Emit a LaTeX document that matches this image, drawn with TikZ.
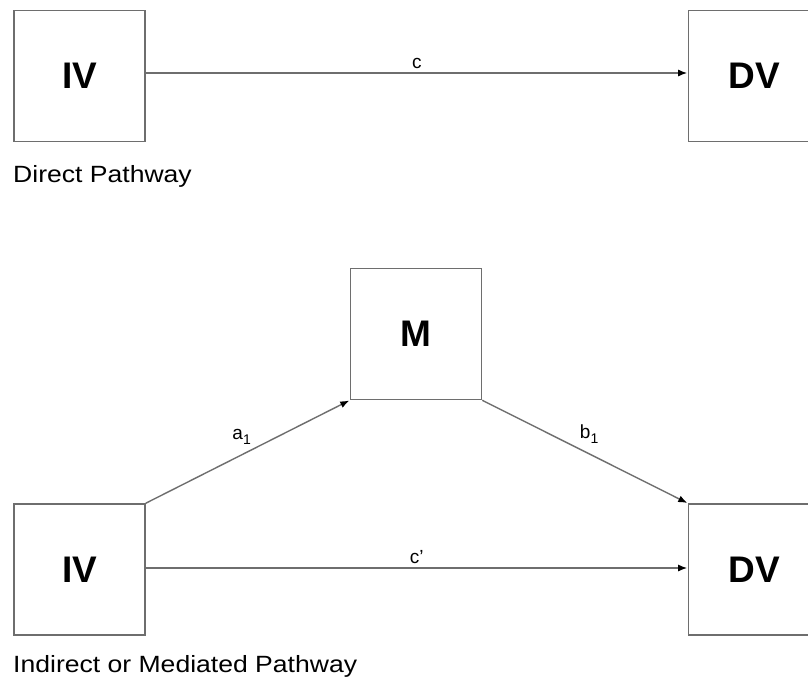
\documentclass[tikz,border=0pt]{standalone}
\usepackage{fontspec}
\setmainfont{Liberation Sans}
\usetikzlibrary{arrows.meta}
\definecolor{edgegray}{HTML}{6E6E6E}
% caption text is set slightly wide
\newcommand{\widecap}[1]{\scalebox{1.13}[1]{#1}}
% coefficient with a lowered index
\newcommand{\coefsub}[2]{#1\raisebox{-5pt}{\fontsize{14}{14}\selectfont #2}}
\begin{document}
\begin{tikzpicture}[x=1pt,y=-1pt,
  varbox/.style={draw=edgegray, line width=1.6pt, minimum width=131pt, minimum height=131pt,
    inner sep=0pt, font=\fontsize{37}{40}\selectfont\bfseries},
  path/.style={draw=edgegray, line width=1.4pt, -{Latex[length=9pt,width=7pt,black]}, shorten >=0.5pt},
  coef/.style={font=\fontsize{19}{22}\selectfont, inner sep=1pt},
  caption/.style={font=\fontsize{23.5}{26}\selectfont, anchor=base west, inner sep=0pt}]
\useasboundingbox[fill=white] (0,0) rectangle (808,681);
\begin{scope}
\clip (0,0) rectangle (808,681);
% direct pathway
\node[varbox] (iv1) at (79.5,76) {IV};
\node[varbox] (dv1) at (754,76) {DV};
\draw[path] (iv1.east |- 0,73) -- (dv1.west |- 0,73) node[coef, pos=0.5, above=3pt] (c) {c};
\node[caption] (cap1) at (13,182) {\widecap{Direct Pathway}};
% mediated pathway
\node[varbox] (m) at (416,334) {M};
\node[varbox] (iv2) at (79.5,569.5) {IV};
\node[varbox] (dv2) at (754,569.5) {DV};
\draw[path] (iv2.north east) -- (m.south west) node[coef, pos=0.47, above=9pt] (a1) {\coefsub{a}{1}};
\draw[path] (m.south east) -- (dv2.north west) node[coef, pos=0.52, above=9pt] (b1) {\coefsub{b}{1}};
\draw[path] (iv2.east |- 0,568) -- (dv2.west |- 0,568) node[coef, pos=0.5, above=3pt] (cp) {c’};
\node[caption] (cap2) at (13,672) {\widecap{Indirect or Mediated Pathway}};
\end{scope}
\end{tikzpicture}
\end{document}
